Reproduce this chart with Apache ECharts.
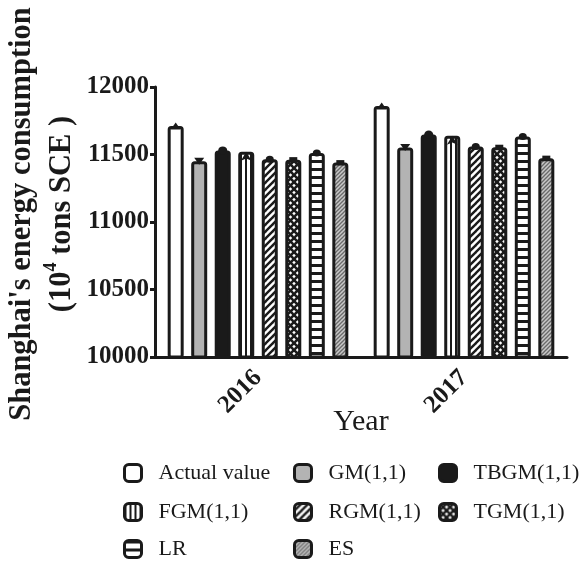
<!DOCTYPE html>
<html>
<head>
<meta charset="utf-8">
<script src="https://cdn.jsdelivr.net/npm/echarts@6/dist/echarts.min.js"></script>
<style>html,body{margin:0;padding:0;background:#fff}#c{width:583px;height:563px}</style>
</head>
<body>
<div id="c"></div>
<script>
const years = ['2016', '2017'];
const seriesNames = ['Actual value', 'GM(1,1)', 'TBGM(1,1)', 'FGM(1,1)', 'RGM(1,1)', 'TGM(1,1)', 'LR', 'ES'];
const actualValue = [11712, 11859];
const gmValue = [11450, 11552];
const tbgmValue = [11530, 11648];
const fgmValue = [11520, 11638];
const rgmValue = [11465, 11559];
const tgmValue = [11462, 11554];
const lrValue = [11512, 11633];
const esValue = [11440, 11473];
const yTicks = [10000, 10500, 11000, 11500, 12000];

const FONT = '"Liberation Serif", "DejaVu Serif", serif';
const INK = '#1a1a1a';

function pat(w, h, draw) {
  const c = document.createElement('canvas');
  c.width = w; c.height = h;
  const g = c.getContext('2d');
  draw(g, w, h);
  return { image: c, repeat: 'repeat' };
}
const fills = [
  '#ffffff',
  '#b3b3b3',
  INK,
  pat(5, 5, (g, w, h) => { g.fillStyle = '#fff'; g.fillRect(0, 0, w, h); g.fillStyle = INK; g.fillRect(0, 0, 2, h); }),
  pat(7, 7, (g, w, h) => {
    g.fillStyle = '#fff'; g.fillRect(0, 0, w, h);
    g.strokeStyle = INK; g.lineWidth = 2.4;
    [-7, 0, 7].forEach(dx => { g.beginPath(); g.moveTo(dx - 1, h + 1); g.lineTo(dx + w + 1, -1); g.stroke(); });
  }),
  pat(7, 7, (g, w, h) => {
    g.fillStyle = '#fff'; g.fillRect(0, 0, w, h);
    g.strokeStyle = INK; g.lineWidth = 2.5;
    [-7, 0, 7].forEach(dx => {
      g.beginPath(); g.moveTo(dx - 1, h + 1); g.lineTo(dx + w + 1, -1); g.stroke();
      g.beginPath(); g.moveTo(dx - 1, -1); g.lineTo(dx + w + 1, h + 1); g.stroke();
    });
  }),
  pat(8, 8, (g, w, h) => { g.fillStyle = '#fff'; g.fillRect(0, 0, w, h); g.fillStyle = INK; g.fillRect(0, 0, w, 3); }),
  pat(4, 4, (g, w, h) => {
    g.fillStyle = '#c8c8c8'; g.fillRect(0, 0, w, h);
    g.strokeStyle = '#6a6a6a'; g.lineWidth = 1.3;
    [-4, 0, 4].forEach(dx => { g.beginPath(); g.moveTo(dx - 1, h + 1); g.lineTo(dx + w + 1, -1); g.stroke(); });
  })
];
const values = [actualValue, gmValue, tbgmValue, fgmValue, rgmValue, tgmValue, lrValue, esValue];
const markers = [
  { symbol: 'triangle', size: [10, 7], rotate: 0 },
  { symbol: 'triangle', size: [10, 7], rotate: 180 },
  { symbol: 'circle', size: [9, 8], rotate: 0 },
  { symbol: 'arrow', size: [8, 9], rotate: 0 },
  { symbol: 'circle', size: [8, 7], rotate: 0 },
  { symbol: 'rect', size: [8, 5], rotate: 0 },
  { symbol: 'circle', size: [8, 7], rotate: 0 },
  { symbol: 'rect', size: [8, 5], rotate: 0 }
];

const series = seriesNames.map((name, i) => ({
  name: name,
  type: 'bar',
  data: values[i],
  barWidth: 16,
  barGap: '47%',
  itemStyle: { color: fills[i], borderColor: INK, borderWidth: 3, borderRadius: 2 },
  emphasis: { disabled: true },
  markPoint: {
    symbol: markers[i].symbol,
    symbolSize: markers[i].size,
    symbolRotate: markers[i].rotate,
    itemStyle: { color: INK },
    label: { show: false },
    silent: true,
    data: years.map((y, j) => ({ coord: [j, values[i][j]] })),
    animation: false
  }
}));

// legend grid: 3 columns, 3 rows
const legendCols = [123, 293, 438];
const legendRows = [462, 501, 538];
const legends = seriesNames.map((name, i) => ({
  left: legendCols[i % 3],
  top: legendRows[Math.floor(i / 3)],
  data: [name],
  itemWidth: 17,
  itemHeight: 17,
  icon: 'roundRect',
  itemStyle: { borderWidth: 3, borderColor: INK },
  selectedMode: false,
  padding: 0,
  textStyle: { fontFamily: FONT, fontSize: 22, color: INK, padding: [0, 0, 0, 12] }
}));

const chart = echarts.init(document.getElementById('c'), null, { renderer: 'canvas' });
chart.setOption({
  animation: false,
  backgroundColor: '#fff',
  legend: legends,
  grid: { left: 155, right: 16, top: 87, bottom: 206, containLabel: false, outerBoundsMode: 'none' },
  xAxis: {
    type: 'category',
    data: years,
    name: 'Year',
    nameLocation: 'middle',
    nameGap: 50,
    nameMoveOverlap: false,
    nameTextStyle: { fontFamily: FONT, fontSize: 30, color: INK, verticalAlign: 'top' },
    axisLine: { lineStyle: { color: INK, width: 3 } },
    axisTick: { alignWithLabel: true, length: 6, lineStyle: { color: INK, width: 3 } },
    axisLabel: { rotate: 45, margin: 17, fontFamily: FONT, fontWeight: 'bold', fontSize: 25, color: INK }
  },
  yAxis: {
    type: 'value',
    min: yTicks[0],
    max: yTicks[yTicks.length - 1],
    interval: 500,
    name: "{a|Shanghai's energy consumption}\n{a|(10}{s|4}{a| tons SCE )}",
    nameLocation: 'middle',
    nameRotate: 90,
    nameGap: 73,
    nameMoveOverlap: false,
    nameTextStyle: {
      padding: [0, 0, 0, 16],
      rich: {
        a: { fontFamily: FONT, fontWeight: 'bold', fontSize: 30.5, color: INK, lineHeight: 40 },
        s: { fontFamily: FONT, fontWeight: 'bold', fontSize: 18, color: INK, verticalAlign: 'top', lineHeight: 40, padding: [0, 0, 12, 0] }
      }
    },
    splitLine: { show: false },
    axisLine: { show: true, lineStyle: { color: INK, width: 3 } },
    axisTick: { show: true, length: 5, lineStyle: { color: INK, width: 3 } },
    axisLabel: { margin: 6, fontFamily: FONT, fontWeight: 'bold', fontSize: 25, color: INK, formatter: v => String(v) }
  },
  series: series
});
</script>
</body>
</html>
